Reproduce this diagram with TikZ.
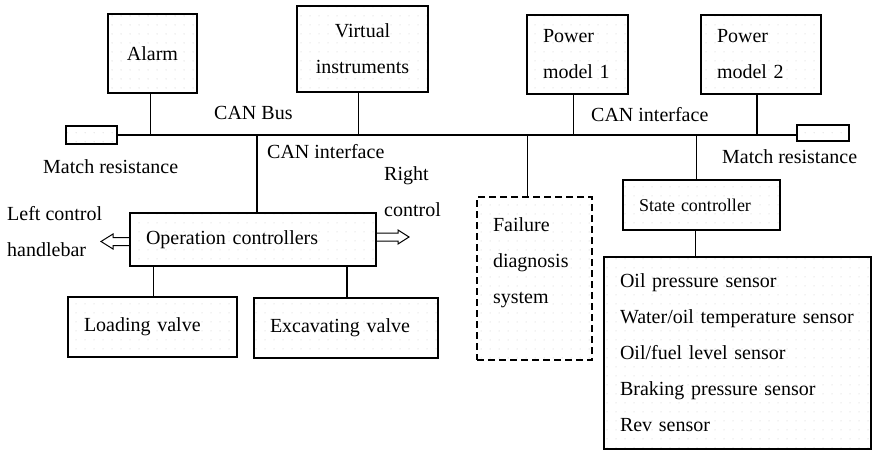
\documentclass[tikz,border=0pt]{standalone}
\usepackage{fontspec}
\setmainfont{Liberation Serif}
\usetikzlibrary{arrows.meta,positioning,patterns.meta}

\tikzdeclarepattern{
  name=faintdots,
  type=uncolored,
  bounding box={(0pt,0pt) and (9pt,9pt)},
  tile size={(9pt,9pt)},
  code={\fill (4.5pt,4.5pt) circle [radius=0.55pt];}
}

\begin{document}
\begin{tikzpicture}[
  x=1pt, y=-1pt,
  font=\fontsize{20}{36}\selectfont,
  blk/.style={draw, line width=1.1pt, pattern=faintdots, pattern color=black!22, inner xsep=16pt, inner ysep=0pt, align=left},
  res/.style={draw, line width=1.1pt, pattern=faintdots, pattern color=black!22, inner sep=0pt},
  lbl/.style={inner sep=0pt, anchor=west, align=left},
  ln/.style={line width=1.1pt},
  hollow/.style={line width=1pt, line join=miter}
]
\useasboundingbox (0,0) rectangle (872,452);

% units on the bus
\node[blk, align=center, text width=57pt, minimum height=79pt] (alarm) at (152.5,53.5) {Alarm};
\node[blk, align=center, text width=99pt, minimum height=86pt] (vins) at (362.5,49) {Virtual\\instruments};
\node[blk, text width=69pt, minimum height=79pt] (pm1) at (577.5,54.5) {Power\\model 1};
\node[blk, text width=88pt, minimum height=79pt] (pm2) at (761,54.5) {Power\\model 2};
\node[res, minimum width=51pt, minimum height=18pt] (lres) at (91.5,135) {};
\node[res, minimum width=52pt, minimum height=16pt] (rres) at (823,133) {};

% lower part
\node[blk, text width=214pt, minimum height=53pt] (opc) at (253,239.5) {Operation controllers};
\node[blk, text width=137pt, minimum height=60pt] (lvalve) at (152.5,327) {Loading valve};
\node[blk, text width=152pt, minimum height=60pt] (evalve) at (346,328) {Excavating valve};
\node[blk, dash pattern=on 7pt off 4pt, text width=83pt, minimum height=163pt] (fds) at (534.5,278.5) {Failure\\diagnosis\\system\\ ~};
\node[blk, font=\fontsize{18}{36}\selectfont, text width=125pt, minimum height=50pt] (stc) at (701.5,205) {State controller};
\node[blk, text width=235pt, minimum height=192pt] (sens) at (737.5,353) {Oil pressure sensor\\Water/oil temperature sensor\\Oil/fuel level sensor\\Braking pressure sensor\\Rev sensor};

% labels
\node[lbl] (canbus) at (214,113) {CAN Bus};
\node[lbl] (canif1) at (267,152) {CAN interface};
\node[lbl] (canif2) at (591,115) {CAN interface};
\node[lbl] (mres1) at (43,167) {Match resistance};
\node[lbl] (mres2) at (722,157) {Match resistance};
\node[lbl] (lctl) at (7,232) {Left control\\handlebar};
\node[lbl] (rctl) at (384,191.5) {Right\\control};

\coordinate (ltip) at (101,241.5);
\coordinate (rtip) at (409,237);

% bus and links
\draw[ln] (lres.east) -- (lres.east -| rres.west);
\draw[ln] ([xshift=-2pt]alarm.south) -- ([xshift=-2pt]alarm.south |- lres.east);
\draw[ln] ([xshift=-4pt]vins.south) -- ([xshift=-4pt]vins.south |- lres.east);
\draw[ln] ([xshift=-4pt]pm1.south) -- ([xshift=-4pt]pm1.south |- lres.east);
\draw[ln] ([xshift=-4pt]pm2.south) -- ([xshift=-4pt]pm2.south |- lres.east);
\draw[ln] ([xshift=4pt]opc.north) -- ([xshift=4pt]opc.north |- lres.east);
\draw[ln] ([xshift=-7pt]fds.north) -- ([xshift=-7pt]fds.north |- lres.east);
\draw[ln] ([xshift=-5pt]stc.north) -- ([xshift=-5pt]stc.north |- lres.east);
\draw[ln] ([xshift=-6pt]stc.south) -- ([xshift=-6pt]stc.south |- sens.north);
\draw[ln] ([xshift=1pt]lvalve.north) -- ([xshift=1pt]lvalve.north |- opc.south);
\draw[ln] ([xshift=1pt]evalve.north) -- ([xshift=1pt]evalve.north |- opc.south);

% hollow arrows to the handlebars
\draw[hollow] ([yshift=4pt]opc.west |- ltip) -| ([xshift=12pt,yshift=7.5pt]ltip) -- (ltip)
  -- ([xshift=12pt,yshift=-7.5pt]ltip) |- ([yshift=-4pt]opc.west |- ltip);
\draw[hollow] ([yshift=4pt]opc.east |- rtip) -| ([xshift=-11pt,yshift=7pt]rtip) -- (rtip)
  -- ([xshift=-11pt,yshift=-7pt]rtip) |- ([yshift=-4pt]opc.east |- rtip);
\end{tikzpicture}
\end{document}
